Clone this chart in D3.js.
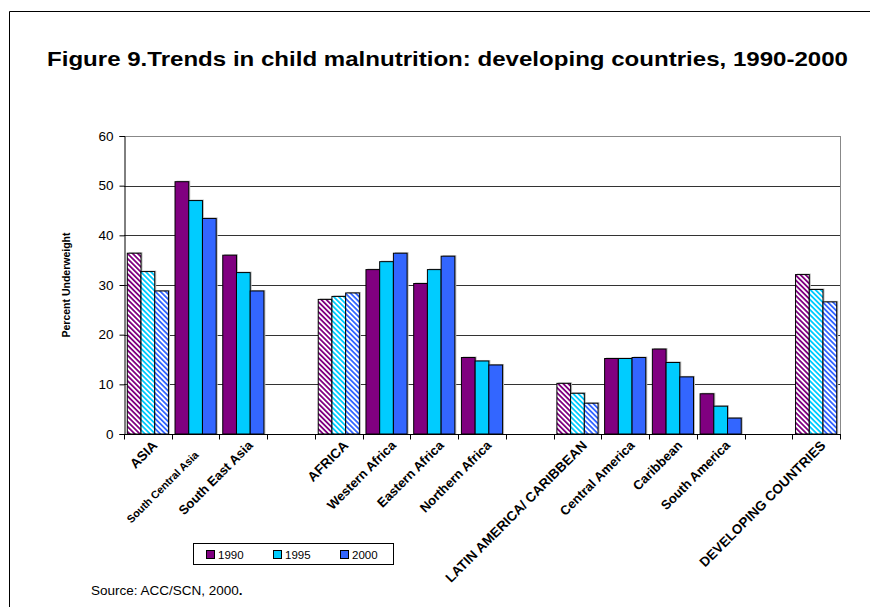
<!DOCTYPE html>
<html>
<head>
<meta charset="utf-8">
<script src="https://cdn.jsdelivr.net/npm/d3@7"></script>
<style>
  html, body { margin: 0; padding: 0; background: #fff; }
  svg { display: block; font-family: "Liberation Sans", Arial, sans-serif; }
</style>
</head>
<body>
<svg id="chart" width="870" height="607"></svg>
<script>
const categories = ["ASIA","South Central Asia","South East Asia","","AFRICA","Western Africa","Eastern Africa","Northern Africa","","LATIN AMERICA/ CARIBBEAN","Central America","Caribbean","South America","","DEVELOPING COUNTRIES"];
const aggregates = ["ASIA","AFRICA","LATIN AMERICA/ CARIBBEAN","DEVELOPING COUNTRIES"];
const seriesNames = ["1990","1995","2000"];
const values1990 = [36.4,50.8,36.0,null,27.1,33.1,30.3,15.4,null,10.2,15.2,17.1,8.1,null,32.1];
const values1995 = [32.7,47.0,32.5,null,27.7,34.7,33.1,14.7,null,8.2,15.2,14.4,5.6,null,29.1];
const values2000 = [28.8,43.4,28.8,null,28.4,36.4,35.8,13.9,null,6.2,15.4,11.5,3.2,null,26.6];
const seriesColors = ["#800080","#00CCFF","#3366FF"];
const yTicks = [0,10,20,30,40,50,60];

const svg = d3.select("#chart");
const plot = {left:124, right:840, top:136, bottom:434};

// frame
svg.append("path").attr("d","M9.5,607 L9.5,11.5 L870,11.5").attr("fill","none").attr("stroke","#000").attr("stroke-width",1);

// title
svg.append("text").attr("x",47).attr("y",66)
  .attr("font-weight","bold").attr("font-size",21)
  .attr("textLength",801).attr("lengthAdjust","spacingAndGlyphs")
  .text("Figure 9.Trends in child malnutrition: developing countries, 1990-2000");

// patterns
const defs = svg.append("defs");
seriesColors.forEach((c,i)=>{
  const p = defs.append("pattern").attr("id","hatch"+i).attr("patternUnits","userSpaceOnUse")
    .attr("width",3.6).attr("height",10).attr("patternTransform","rotate(-45)");
  p.append("rect").attr("width",3.6).attr("height",10).attr("fill","#fff");
  p.append("rect").attr("width",1.8).attr("height",10).attr("fill",c);
});

const idx = d3.range(categories.length);
const x0 = d3.scaleBand().domain(idx).range([plot.left, plot.right]).padding(0);
const x1 = d3.scaleBand().domain(seriesNames).range([0, x0.bandwidth()]).paddingInner(0).paddingOuter(0.24);
const y = d3.scaleLinear().domain([0,60]).range([plot.bottom, plot.top]);

// gridlines
svg.append("g").selectAll("line").data(yTicks.filter(t=>t>0)).join("line")
  .attr("x1",plot.left).attr("x2",plot.right)
  .attr("y1",d=>Math.round(y(d))+0.5).attr("y2",d=>Math.round(y(d))+0.5)
  .attr("stroke",d=>d===60?"#888":"#333").attr("stroke-width",1);
svg.append("line").attr("x1",plot.right+0.5).attr("x2",plot.right+0.5).attr("y1",plot.top).attr("y2",plot.bottom)
  .attr("stroke","#888");

// bars
const allValues = [values1990, values1995, values2000];
const barData = [];
idx.forEach(i=>{
  seriesNames.forEach((s,k)=>{
    const v = allValues[k][i];
    if (v !== null) barData.push({i, k, s, v, agg: aggregates.includes(categories[i])});
  });
});
const bars = svg.append("g");
bars.selectAll("rect.shadow").data(barData).join("rect").attr("class","shadow")
  .attr("x",d=>x0(d.i)+x1(d.s)+1.5).attr("y",d=>y(d.v)-1)
  .attr("width",x1.bandwidth()).attr("height",d=>y(0)-y(d.v)+1)
  .attr("fill","#bbb");
bars.selectAll("rect.bar").data(barData).join("rect").attr("class","bar")
  .attr("x",d=>x0(d.i)+x1(d.s)).attr("y",d=>y(d.v))
  .attr("width",x1.bandwidth()).attr("height",d=>y(0)-y(d.v))
  .attr("fill",d=>d.agg?`url(#hatch${d.k})`:seriesColors[d.k])
  .attr("stroke","#000").attr("stroke-width",1);

// y axis
const yAxis = d3.axisLeft(y).tickValues(yTicks).tickSize(5).tickPadding(6);
const gy = svg.append("g").attr("transform",`translate(${plot.left+0.5},0)`).call(yAxis);
gy.select(".domain").attr("stroke","#000");
gy.selectAll("text").attr("font-size",13.5).attr("font-family","Liberation Sans, Arial, sans-serif").attr("fill","#000");

// x axis
const gx = svg.append("g").attr("transform",`translate(0,${plot.bottom+0.5})`);
gx.append("line").attr("x1",plot.left).attr("x2",plot.right+1).attr("stroke","#000");
const tickPositions = d3.range(categories.length+1).map(i=> i<categories.length ? x0(i) : plot.right);
gx.selectAll("line.tick").data(tickPositions).join("line").attr("class","tick")
  .attr("x1",d=>Math.round(d)+0.5).attr("x2",d=>Math.round(d)+0.5).attr("y1",0).attr("y2",5).attr("stroke","#000");

// x labels
svg.append("g").selectAll("text").data(idx.filter(i=>categories[i]!=="")).join("text")
  .attr("transform",i=>{
    const small = categories[i]==="South Central Asia";
    return `translate(${x0(i)+x0.bandwidth()/2+(small?1:7)},${plot.bottom+(small?19:9)}) rotate(-45)`;
  })
  .attr("text-anchor","end").attr("dy","0.35em")
  .attr("font-weight","bold")
  .attr("font-size",i=>categories[i]==="South Central Asia"?10.8:(aggregates.includes(categories[i])?13.5:13))
  .text(i=>categories[i]);

// y title
svg.append("text").attr("transform","translate(66,285) rotate(-90)").attr("text-anchor","middle")
  .attr("dy","0.35em").attr("font-weight","bold").attr("font-size",10.5).text("Percent Underweight");

// legend
const lg = svg.append("g");
lg.append("rect").attr("x",193.5).attr("y",543.5).attr("width",200).attr("height",21).attr("fill","#fff").attr("stroke","#000");
const legX = [206,273,340];
seriesNames.forEach((s,k)=>{
  lg.append("rect").attr("x",legX[k]+0.5).attr("y",550.5).attr("width",8).attr("height",8)
    .attr("fill",seriesColors[k]).attr("stroke","#000");
  lg.append("text").attr("x",legX[k]+12).attr("y",559).attr("font-size",11.5).text(s);
});

// source
const src = svg.append("text").attr("x",91).attr("y",595).attr("font-size",13.5);
src.append("tspan").text("Source: ACC/SCN, 2000");
src.append("tspan").attr("font-weight","bold").text(".");
</script>
</body>
</html>
